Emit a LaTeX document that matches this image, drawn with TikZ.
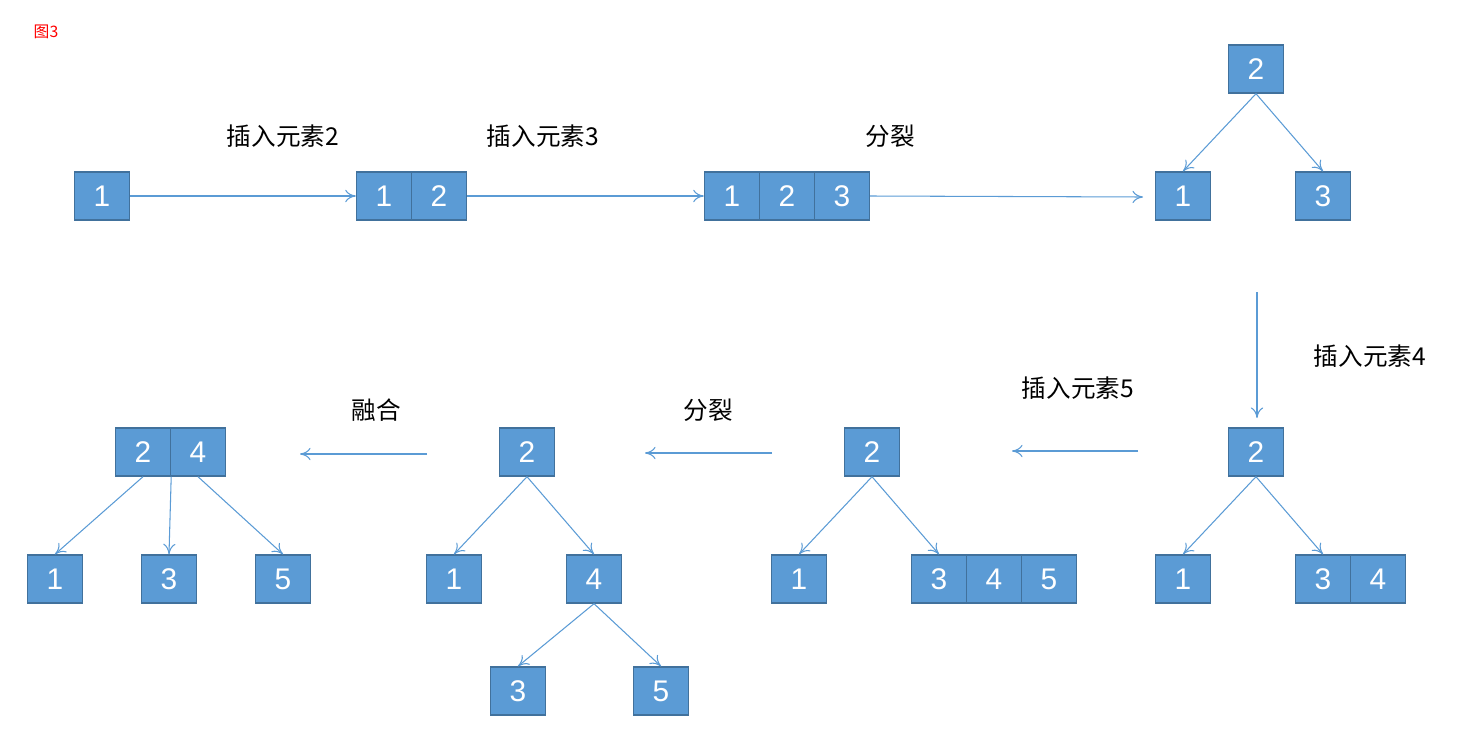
\documentclass[tikz,border=0pt]{standalone}
\usepackage{fontspec}
\setmainfont{Liberation Sans}
\newfontfamily\cjk{Noto Sans CJK SC}
\usetikzlibrary{arrows.meta}
\definecolor{boxfill}{HTML}{5B9BD5}
\definecolor{boxline}{HTML}{41719C}
\begin{document}
\begin{tikzpicture}[x=0.02cm,y=-0.02cm,
  cell/.style={draw=boxline,fill=boxfill,line width=0.8pt,minimum width=1.1cm,minimum height=0.96cm,inner sep=0pt,text=white,font=\fontsize{17}{17}\selectfont},
  lab/.style={font=\cjk\fontsize{14}{14}\selectfont},
  arr/.style={draw=boxfill,line width=0.6pt,-{To[length=6pt,width=7pt]}}]
\useasboundingbox (0,0) rectangle (1468,754);
\node[text=red,font=\cjk\fontsize{9}{9}\selectfont] (title) at (46,32) {图3};
% row 1
\node[cell] (a1) at (102,196) {1};
\node[cell] (b1) at (384,196) {1};
\node[cell] (b2) at (439,196) {2};
\node[cell] (c1) at (732,196) {1};
\node[cell] (c2) at (787,196) {2};
\node[cell] (c3) at (842,196) {3};
\node[cell] (d2) at (1256,69) {2};
\node[cell] (d1) at (1183,196) {1};
\node[cell] (d3) at (1323,196) {3};
\draw[arr] (a1.east) -- (b1.west);
\draw[arr] (b2.east) -- (c1.west);
\draw[arr] (c3.east) -- (1143,197) coordinate (cend);
\draw[arr] (d2.south) -- (d1.north);
\draw[arr] (d2.south) -- (d3.north);
\node[lab] (l1) at (283,136) {插入元素2};
\node[lab] (l2) at (543,136) {插入元素3};
\node[lab] (l3) at (890,136) {分裂};
% vertical
\coordinate (vs) at (1257,292);
\coordinate (ve) at (1257,418);
\draw[arr] (vs) -- (ve);
\node[lab] (l4) at (1370,356) {插入元素4};
% row 2, tree e
\node[cell] (e2) at (1256,452) {2};
\node[cell] (e1) at (1183,579) {1};
\node[cell] (e3) at (1323,579) {3};
\node[cell] (e4) at (1378,579) {4};
\draw[arr] (e2.south) -- (e1.north);
\draw[arr] (e2.south) -- (e3.north);
\coordinate (s5) at (1138,451);
\coordinate (t5) at (1012,451);
\draw[arr] (s5) -- (t5);
\node[lab] (l5) at (1078,388) {插入元素5};
% tree f
\node[cell] (f2) at (872,452) {2};
\node[cell] (f1) at (799,579) {1};
\node[cell] (f3) at (939,579) {3};
\node[cell] (f4) at (994,579) {4};
\node[cell] (f5) at (1049,579) {5};
\draw[arr] (f2.south) -- (f1.north);
\draw[arr] (f2.south) -- (f3.north);
\coordinate (s6) at (772,453);
\coordinate (t6) at (645,453);
\draw[arr] (s6) -- (t6);
\node[lab] (l6) at (708,410) {分裂};
% tree g
\node[cell] (g2) at (527,452) {2};
\node[cell] (g1) at (454,579) {1};
\node[cell] (g4) at (594,579) {4};
\node[cell] (g3) at (518,691) {3};
\node[cell] (g5) at (661,691) {5};
\draw[arr] (g2.south) -- (g1.north);
\draw[arr] (g2.south) -- (g4.north);
\draw[arr] (g4.south) -- (g3.north);
\draw[arr] (g4.south) -- (g5.north);
\coordinate (s7) at (427,454);
\coordinate (t7) at (300,454);
\draw[arr] (s7) -- (t7);
\node[lab] (l7) at (376,410) {融合};
% tree h
\node[cell] (h2) at (143,452) {2};
\node[cell] (h4) at (198,452) {4};
\node[cell] (h1) at (55,579) {1};
\node[cell] (h3) at (169,579) {3};
\node[cell] (h5) at (283,579) {5};
\draw[arr] (h2.south) -- (h1.north);
\draw[arr] (h2.south east) -- (h3.north);
\draw[arr] (h4.south) -- (h5.north);
\end{tikzpicture}
\end{document}
